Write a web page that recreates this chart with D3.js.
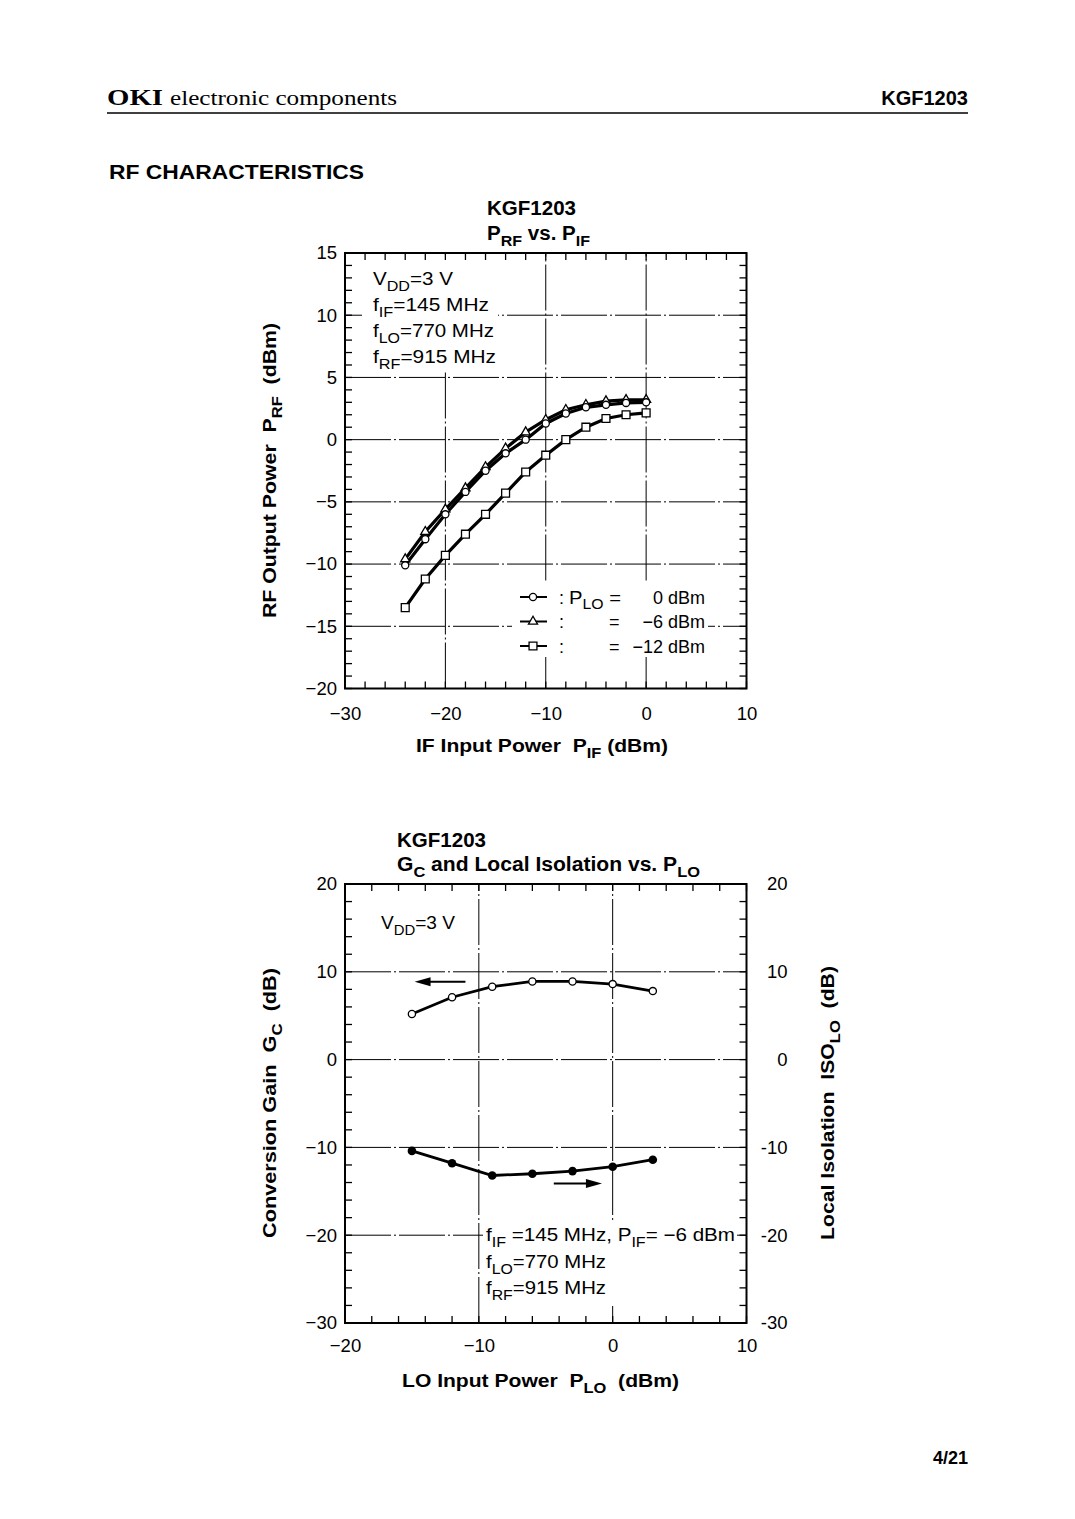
<!DOCTYPE html>
<html><head><meta charset="utf-8">
<script src="https://cdn.jsdelivr.net/npm/d3@7"></script>
<style>
body{margin:0;background:#fff}
svg{display:block}
text{font-family:"Liberation Sans",Arial,Helvetica,sans-serif;fill:#000;white-space:pre}
</style>
</head><body>
<svg id="c" width="1075" height="1519"></svg>
<script>
// ---------- DATA: chart 1 (P_RF vs P_IF) ----------
const ifPower   = [-24,-22,-20,-18,-16,-14,-12,-10,-8,-6,-4,-2,0];
const prfLo0    = [-10.1,-8.0,-6.0,-4.2,-2.5,-1.1,0.0,1.3,2.1,2.6,2.8,2.95,3.0];
const prfLoM6   = [-9.6,-7.4,-5.6,-3.9,-2.2,-0.7,0.6,1.6,2.4,2.8,3.1,3.2,3.2];
const prfLoM12  = [-13.5,-11.2,-9.3,-7.6,-6.0,-4.3,-2.6,-1.25,0.0,1.0,1.7,2.0,2.15];
const topXTicks = [-30,-20,-10,0,10];
const topYTicks = [15,10,5,0,-5,-10,-15,-20];
const topXGrid  = [-20,-10,0];
const topYGrid  = [-15,-10,-5,0,5,10];
const legendValues = ["0 dBm","\u22126 dBm","\u221212 dBm"];

// ---------- DATA: chart 2 (Gc and isolation vs P_LO) ----------
const loPower   = [-15,-12,-9,-6,-3,0,3];
const convGain  = [5.2,7.1,8.3,8.9,8.9,8.6,7.8];
const localIso  = [-10.4,-11.8,-13.2,-13.0,-12.7,-12.2,-11.4];
const botXTicks = [-20,-10,0,10];
const botYTicks = [20,10,0,-10,-20,-30];
const botXGrid  = [-10,0];
const botYGrid  = [-20,-10,0,10];

const svg = d3.select('#c');

function rich(g, x, y, parts, size, opts={}) {
  const t = g.append('text').attr('x',x).attr('y',y).attr('font-size',size);
  if (opts.bold) t.attr('font-weight','bold');
  if (opts.anchor) t.attr('text-anchor',opts.anchor);
  if (opts.transform) t.attr('transform',opts.transform);
  if (opts.len) t.attr('textLength',opts.len).attr('lengthAdjust','spacingAndGlyphs');
  let shifted = 0;
  parts.forEach(p => {
    const [s, sub] = typeof p === 'string' ? [p,false] : p;
    const ts = t.append('tspan').text(s);
    const target = sub ? size*0.32 : 0;
    if (target !== shifted) { ts.attr('dy', target - shifted); shifted = target; }
    if (sub) ts.attr('font-size', size*0.78);
  });
  return t;
}

// ---------- Page header ----------
svg.append('text').attr('x',107).attr('y',105).attr('font-size',23).attr('font-weight','bold')
  .style('font-family','"Liberation Serif","Times New Roman",serif')
  .attr('textLength',56).attr('lengthAdjust','spacingAndGlyphs').text('OKI');
svg.append('text').attr('x',170).attr('y',105).attr('font-size',21)
  .style('font-family','"Liberation Serif","Times New Roman",serif')
  .attr('textLength',227).attr('lengthAdjust','spacingAndGlyphs').text('electronic components');
svg.append('text').attr('x',968).attr('y',105).attr('font-size',20).attr('font-weight','bold')
  .attr('text-anchor','end').text('KGF1203');
svg.append('line').attr('x1',107).attr('x2',968).attr('y1',113).attr('y2',113).attr('stroke','#000').attr('stroke-width',1.5);
svg.append('text').attr('x',109).attr('y',179).attr('font-size',21).attr('font-weight','bold')
  .attr('textLength',255).attr('lengthAdjust','spacingAndGlyphs').text('RF CHARACTERISTICS');
svg.append('text').attr('x',968).attr('y',1464).attr('font-size',18).attr('font-weight','bold')
  .attr('text-anchor','end').text('4/21');

function styleAxis(g, size) {
  g.attr('font-family',null).attr('font-size',null);
  g.select('.domain').remove();
  g.selectAll('text').attr('font-size',size).style('font-family','"Liberation Sans",Arial,sans-serif');
}

function frameAndTicks(g, x, y, xMinor, yMinor) {
  const [x0,x1] = x.range(), [y0,y1] = y.range();
  const tl = 7;
  g.append('g').selectAll('line').data(xMinor).join('line')
    .attr('x1',d=>x(d)).attr('x2',d=>x(d)).attr('y1',y0).attr('y2',y0-tl).attr('stroke','#000').attr('stroke-width',1.3);
  g.append('g').selectAll('line').data(xMinor).join('line')
    .attr('x1',d=>x(d)).attr('x2',d=>x(d)).attr('y1',y1).attr('y2',y1+tl).attr('stroke','#000').attr('stroke-width',1.3);
  g.append('g').selectAll('line').data(yMinor).join('line')
    .attr('x1',x0).attr('x2',x0+tl).attr('y1',d=>y(d)).attr('y2',d=>y(d)).attr('stroke','#000').attr('stroke-width',1.3);
  g.append('g').selectAll('line').data(yMinor).join('line')
    .attr('x1',x1).attr('x2',x1-tl).attr('y1',d=>y(d)).attr('y2',d=>y(d)).attr('stroke','#000').attr('stroke-width',1.3);
  g.append('rect').attr('x',x0).attr('y',y1).attr('width',x1-x0).attr('height',y0-y1)
    .attr('fill','none').attr('stroke','#000').attr('stroke-width',2);
}

function grid(g, x, y, xs, ys) {
  const [x0,x1] = x.range(), [y0,y1] = y.range();
  g.append('g').selectAll('line').data(xs).join('line')
    .attr('x1',d=>x(d)).attr('x2',d=>x(d)).attr('y1',y0).attr('y2',y1)
    .attr('stroke','#000').attr('stroke-width',1).attr('stroke-dasharray','46 3 2 3');
  g.append('g').selectAll('line').data(ys).join('line')
    .attr('x1',x0).attr('x2',x1).attr('y1',d=>y(d)).attr('y2',d=>y(d))
    .attr('stroke','#000').attr('stroke-width',1).attr('stroke-dasharray','46 3 2 3');
}

const TF = 18.5; // tick font
const AF = 18;   // annotation font

// ================= Chart 1 =================
{
  const g = svg.append('g');
  const x = d3.scaleLinear().domain([-30,10]).range([345,746.5]);
  const y = d3.scaleLinear().domain([-20,15]).range([688.5,253]);

  grid(g, x, y, topXGrid, topYGrid);
  g.append('rect').attr('x',362).attr('y',255).attr('width',136).attr('height',116).attr('fill','#fff');
  g.append('rect').attr('x',512).attr('y',582).attr('width',196).attr('height',75).attr('fill','#fff');

  frameAndTicks(g, x, y, d3.range(-30,10.01,2), d3.range(-20,15.01,1));

  const ax = g.append('g').attr('transform',`translate(0,${y.range()[0]})`)
    .call(d3.axisBottom(x).tickValues(topXTicks).tickSize(0).tickPadding(18));
  styleAxis(ax, TF);
  const ay = g.append('g').attr('transform',`translate(${x.range()[0]},0)`)
    .call(d3.axisLeft(y).tickValues(topYTicks).tickSize(0).tickPadding(8));
  styleAxis(ay, TF);

  const line = d3.line().x(d=>x(d[0])).y(d=>y(d[1]));
  const series = [
    {vals: prfLoM12, sym: d3.symbolSquare, size: 62},
    {vals: prfLoM6,  sym: d3.symbolTriangle, size: 36},
    {vals: prfLo0,   sym: d3.symbolCircle, size: 40},
  ];
  series.forEach(s => {
    const pts = ifPower.map((v,i)=>[v, s.vals[i]]);
    g.append('path').attr('d',line(pts)).attr('fill','none').attr('stroke','#000').attr('stroke-width',3.2);
  });
  series.forEach(s => {
    const pts = ifPower.map((v,i)=>[v, s.vals[i]]);
    g.append('g').selectAll('path').data(pts).join('path')
      .attr('d', d3.symbol().type(s.sym).size(s.size))
      .attr('transform', d=>`translate(${x(d[0])},${y(d[1])})`)
      .attr('fill','#fff').attr('stroke','#000').attr('stroke-width',1.3);
  });

  // legend
  const legSyms = [[d3.symbolCircle,40],[d3.symbolTriangle,36],[d3.symbolSquare,62]];
  legSyms.forEach((s,i) => {
    const cy = 597 + i*24.5;
    g.append('line').attr('x1',520).attr('x2',547).attr('y1',cy).attr('y2',cy).attr('stroke','#000').attr('stroke-width',2);
    g.append('path').attr('d',d3.symbol().type(s[0]).size(s[1])).attr('transform',`translate(533,${cy})`)
      .attr('fill','#fff').attr('stroke','#000').attr('stroke-width',1.3);
    const by = cy + 6.5;
    g.append('text').attr('x',559).attr('y',by).attr('font-size',AF).text(':');
    if (i === 0) rich(g, 569, by, ['P',['LO',true],' ='], AF, {len:52});
    else g.append('text').attr('x',609).attr('y',by).attr('font-size',AF).text('=');
    g.append('text').attr('x',705).attr('y',by).attr('font-size',AF).attr('text-anchor','end').text(legendValues[i]);
  });

  // conditions
  rich(g, 373, 285, ['V',['DD',true],'=3 V'], AF, {len:80});
  rich(g, 373, 311, ['f',['IF',true],'=145 MHz'], AF, {len:116});
  rich(g, 373, 337, ['f',['LO',true],'=770 MHz'], AF, {len:121});
  rich(g, 373, 363, ['f',['RF',true],'=915 MHz'], AF, {len:123});

  // titles
  g.append('text').attr('x',487).attr('y',215).attr('font-size',19.5).attr('font-weight','bold')
    .attr('textLength',89).attr('lengthAdjust','spacingAndGlyphs').text('KGF1203');
  rich(g, 487, 240, ['P',['RF',true],' vs. P',['IF',true]], 19.5, {bold:true, len:103});
  rich(g, 416, 752, ['IF Input Power  P',['IF',true],' (dBm)'], 19, {bold:true, len:252});
  rich(g, 0, 0, ['RF Output Power  P',['RF',true],'  (dBm)'], 19, {bold:true, len:295, transform:'translate(276,618) rotate(-90)'});
}

// ================= Chart 2 =================
{
  const g = svg.append('g');
  const x = d3.scaleLinear().domain([-20,10]).range([345,746.5]);
  const y = d3.scaleLinear().domain([-30,20]).range([1323,884]);

  grid(g, x, y, botXGrid, botYGrid);
  g.append('rect').attr('x',376).attr('y',905).attr('width',84).attr('height',36).attr('fill','#fff');
  g.append('rect').attr('x',483).attr('y',1222).attr('width',254).attr('height',84).attr('fill','#fff');

  frameAndTicks(g, x, y, d3.range(-20,10.01,2), d3.range(-30,20.01,2));

  const ax = g.append('g').attr('transform',`translate(0,${y.range()[0]})`)
    .call(d3.axisBottom(x).tickValues(botXTicks).tickSize(0).tickPadding(16));
  styleAxis(ax, TF);
  const ay = g.append('g').attr('transform',`translate(${x.range()[0]},0)`)
    .call(d3.axisLeft(y).tickValues(botYTicks).tickSize(0).tickPadding(8));
  styleAxis(ay, TF);
  const ar = g.append('g').attr('transform',`translate(${x.range()[1]},0)`)
    .call(d3.axisRight(y).tickValues(botYTicks).tickFormat(d=>String(d)).tickSize(0));
  styleAxis(ar, TF);
  ar.selectAll('text').attr('x',41).attr('text-anchor','end');

  const line = d3.line().x(d=>x(d[0])).y(d=>y(d[1]));
  const gcPts = loPower.map((v,i)=>[v, convGain[i]]);
  const isoPts = loPower.map((v,i)=>[v, localIso[i]]);
  g.append('path').attr('d',line(gcPts)).attr('fill','none').attr('stroke','#000').attr('stroke-width',2.8);
  g.append('path').attr('d',line(isoPts)).attr('fill','none').attr('stroke','#000').attr('stroke-width',2.8);
  g.append('g').selectAll('circle').data(gcPts).join('circle')
    .attr('cx',d=>x(d[0])).attr('cy',d=>y(d[1])).attr('r',3.6)
    .attr('fill','#fff').attr('stroke','#000').attr('stroke-width',1.3);
  g.append('g').selectAll('circle').data(isoPts).join('circle')
    .attr('cx',d=>x(d[0])).attr('cy',d=>y(d[1])).attr('r',4.3).attr('fill','#000');

  // arrows (in data units: from x, to x, y)
  const arrows = [[-11.0,-14.8,8.87],[-4.4,-0.8,-14.1]];
  arrows.forEach(([a,b,v]) => {
    const xa = x(a), xb = x(b), yy = y(v), dir = Math.sign(xb-xa);
    g.append('line').attr('x1',xa).attr('x2',xb - dir*12).attr('y1',yy).attr('y2',yy).attr('stroke','#000').attr('stroke-width',2);
    g.append('path').attr('d',`M${xb},${yy} L${xb-dir*16},${yy-4.5} L${xb-dir*16},${yy+4.5} Z`).attr('fill','#000');
  });

  rich(g, 381, 929, ['V',['DD',true],'=3 V'], AF, {len:74});
  rich(g, 486, 1241, ['f',['IF',true],' =145 MHz, P',['IF',true],'= \u22126 dBm'], AF, {len:249});
  rich(g, 486, 1268, ['f',['LO',true],'=770 MHz'], AF, {len:120});
  rich(g, 486, 1294, ['f',['RF',true],'=915 MHz'], AF, {len:120});

  g.append('text').attr('x',397).attr('y',847).attr('font-size',19.5).attr('font-weight','bold')
    .attr('textLength',89).attr('lengthAdjust','spacingAndGlyphs').text('KGF1203');
  rich(g, 397, 871, ['G',['C',true],' and Local Isolation vs. P',['LO',true]], 19.5, {bold:true, len:303});
  rich(g, 402, 1387, ['LO Input Power  P',['LO',true],'  (dBm)'], 19, {bold:true, len:277});
  rich(g, 0, 0, ['Conversion Gain  G',['C',true],'  (dB)'], 19, {bold:true, len:270, transform:'translate(276,1238) rotate(-90)'});
  rich(g, 0, 0, ['Local Isolation  ISO',['LO',true],'  (dB)'], 19, {bold:true, len:274, transform:'translate(834,1240) rotate(-90)'});
}
</script>
</body></html>
